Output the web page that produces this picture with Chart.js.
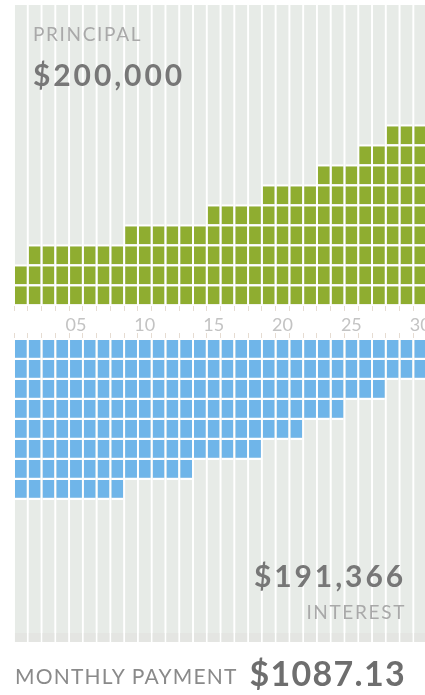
<!DOCTYPE html>
<html>
<head>
<meta charset="utf-8">
<script src="https://cdn.jsdelivr.net/npm/chart.js@4.4.1/dist/chart.umd.min.js"></script>
<style>
  html, body { margin: 0; padding: 0; background: #fff; width: 425px; height: 695px; overflow: hidden; }
  #wrap { position: relative; width: 425px; height: 695px; overflow: hidden; }
  #c { position: absolute; left: 0; top: 0; }
  .t { position: absolute; white-space: nowrap; font-family: Lato, "Open Sans", sans-serif; line-height: 1; }
  #principalLabel { left: 33px; top: 24px; font-size: 19px; color: #a9a9a9; letter-spacing: 1.65px; }
  #principalValue { left: 33px; top: 59px; font-size: 30px; font-weight: 700; color: #777777; letter-spacing: 2.9px; }
  #interestValue  { right: 19px; top: 560px; font-size: 30px; font-weight: 700; color: #777777; letter-spacing: 2.9px; text-align: right; }
  #interestLabel  { right: 19px; top: 602px; font-size: 19px; color: #a9a9a9; letter-spacing: 1.65px; text-align: right; }
  #paymentLabel   { left: 15px; top: 665px; font-size: 21px; color: #8a8a8a; letter-spacing: 1.2px; }
  #paymentValue   { right: 19px; top: 656px; font-size: 34px; font-weight: 700; color: #6e6e6e; letter-spacing: 1.3px; text-align: right; }
</style>
</head>
<body>
<div id="wrap">
  <canvas id="c" width="445" height="695" style="width:445px;height:695px"></canvas>
  <div class="t" id="principalLabel"></div>
  <div class="t" id="principalValue"></div>
  <div class="t" id="interestValue"></div>
  <div class="t" id="interestLabel"></div>
  <div class="t" id="paymentLabel"></div>
  <div class="t" id="paymentValue"></div>
</div>
<script>
// Loan years on the horizontal axis
const years = [1, 2, 3, 4, 5, 6, 7, 8, 9, 10, 11, 12, 13, 14, 15,
               16, 17, 18, 19, 20, 21, 22, 23, 24, 25, 26, 27, 28, 29, 30];
// Year labels printed between the two block stacks
const tickLabels = ['05', '10', '15', '20', '25', '30'];
// Blocks of principal repaid each year (stacked upward)
const principalBlocks = [2, 3, 3, 3, 3, 3, 3, 3, 4, 4, 4, 4, 4, 4, 5,
                         5, 5, 5, 6, 6, 6, 6, 7, 7, 7, 8, 8, 9, 9, 9];
// Blocks of interest paid each year (stacked downward)
const interestBlocks = [8, 8, 8, 8, 8, 8, 8, 8, 7, 7, 7, 7, 7, 6, 6,
                        6, 6, 6, 5, 5, 5, 4, 4, 4, 3, 3, 3, 2, 2, 2];
// Headline figures
const principalTotal = '$200,000';
const interestTotal = '$191,366';
const monthlyPayment = '$1087.13';

document.getElementById('principalLabel').textContent = 'PRINCIPAL';
document.getElementById('principalValue').textContent = principalTotal;
document.getElementById('interestValue').textContent = interestTotal;
document.getElementById('interestLabel').textContent = 'INTEREST';
document.getElementById('paymentLabel').textContent = 'MONTHLY PAYMENT';
document.getElementById('paymentValue').textContent = monthlyPayment;

// Both value axes are measured in block rows; the interest axis runs downward
const UP = { min: -16.885, max: 14.965 };
const DOWN = { min: -16.75, max: 15.1 };
const SHADOW_FROM = 14.65;   // faint band at the foot of the lower stripes

const GREEN = '#8fad30';
const BLUE = '#6fb5e9';
const STRIPE = '#e7ebe7';
const GAP = 2.3;

const barShape = { grouped: false, barPercentage: 0.86, categoryPercentage: 1, borderSkipped: false };

function blockRows(counts, axisID, color, gapSide) {
  const rows = Math.max(...counts);
  const sets = [];
  for (let k = 1; k <= rows; k++) {
    sets.push(Object.assign({
      data: counts.map(n => (n >= k ? [k - 1, k] : null)),
      yAxisID: axisID,
      backgroundColor: color,
      borderColor: '#ffffff',
      borderWidth: { top: gapSide === 'top' ? GAP : 0, bottom: gapSide === 'bottom' ? GAP : 0, left: 0, right: 0 },
      order: 1
    }, barShape));
  }
  return sets;
}

const datasets = [
  Object.assign({ data: years.map(() => [0, UP.max]), yAxisID: 'y', backgroundColor: STRIPE, borderWidth: 0, order: 3 }, barShape),
  Object.assign({ data: years.map(() => [0, DOWN.max]), yAxisID: 'y2', backgroundColor: STRIPE, borderWidth: 0, order: 3 }, barShape),
  Object.assign({ data: years.map(() => [SHADOW_FROM, DOWN.max]), yAxisID: 'y2', backgroundColor: '#e4e5e2', borderWidth: 0, order: 2 }, barShape),
  ...blockRows(principalBlocks, 'y', GREEN, 'top'),
  ...blockRows(interestBlocks, 'y2', BLUE, 'bottom')
];

const tickMarks = { display: true, drawOnChartArea: false, drawTicks: true, tickLength: 5, offset: true, color: '#e6dcd2', lineWidth: 1 };

new Chart(document.getElementById('c'), {
  type: 'bar',
  data: { labels: years, datasets },
  options: {
    responsive: false,
    animation: false,
    devicePixelRatio: 1,
    layout: { padding: { left: 14, right: 17.9, top: 5, bottom: 53 } },
    plugins: { legend: { display: false }, tooltip: { enabled: false } },
    scales: {
      x: {
        type: 'category',
        position: { y: -0.1 },
        offset: true,
        grid: tickMarks,
        border: { display: false },
        ticks: {
          autoSkip: false,
          maxRotation: 0,
          padding: 3,
          color: '#c3c3c3',
          font: { family: 'Lato', size: 18 },
          callback: function (value, index) {
            const s = String(years[index]).padStart(2, '0');
            return tickLabels.includes(s) ? s : '';
          }
        }
      },
      x2: {
        type: 'category',
        position: { y2: -0.35 },
        offset: true,
        grid: tickMarks,
        border: { display: false },
        ticks: { display: false, autoSkip: false }
      },
      y: { type: 'linear', display: false, min: UP.min, max: UP.max, bounds: 'data' },
      y2: { type: 'linear', display: false, reverse: true, min: DOWN.min, max: DOWN.max, bounds: 'data' }
    }
  }
});
</script>
</body>
</html>
